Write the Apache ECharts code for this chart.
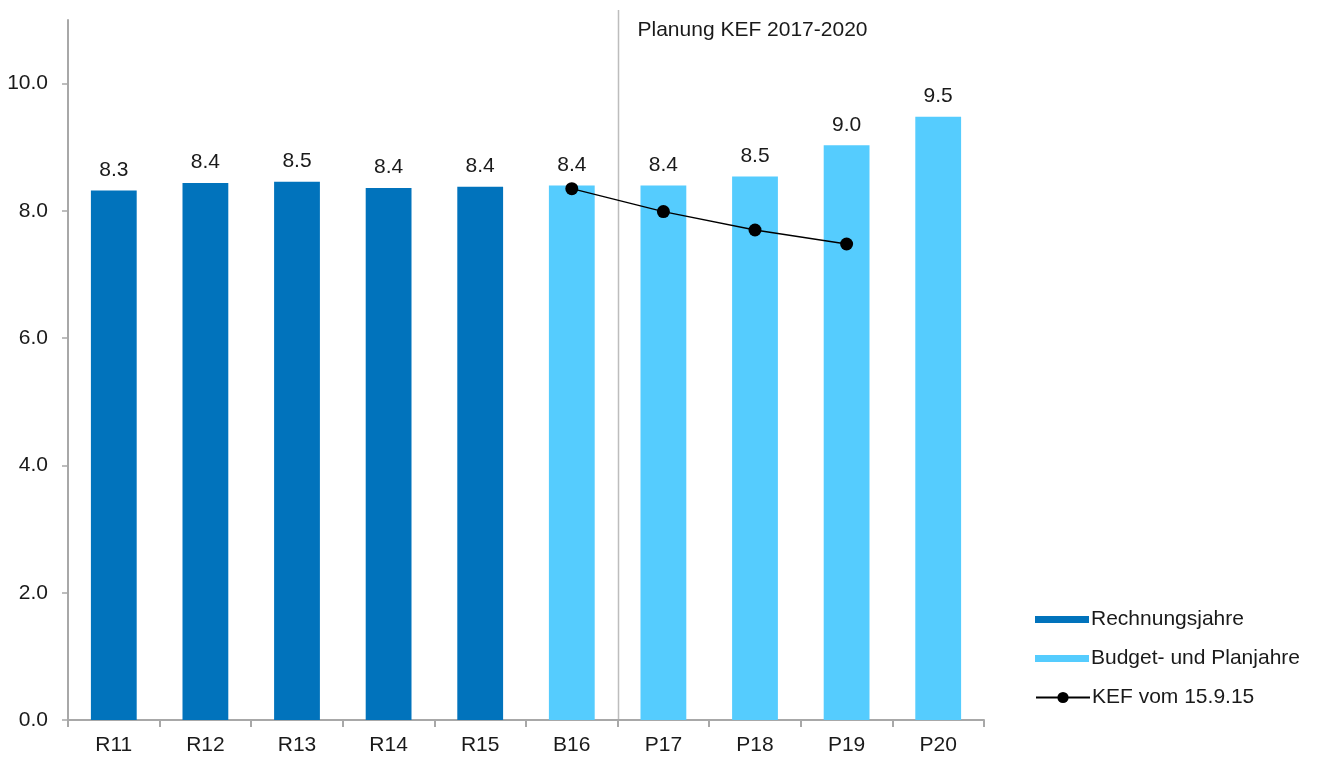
<!DOCTYPE html>
<html>
<head>
<meta charset="utf-8">
<script src="https://cdn.jsdelivr.net/npm/echarts@6/dist/echarts.min.js"></script>
<style>
  html, body { margin: 0; padding: 0; background: #fff; }
  #chart { width: 1319px; height: 758px; }
</style>
</head>
<body>
<div id="chart"></div>
<script>
const categories = ['R11', 'R12', 'R13', 'R14', 'R15', 'B16', 'P17', 'P18', 'P19', 'P20'];
const rechnung = [8.32, 8.44, 8.46, 8.36, 8.38, '-', '-', '-', '-', '-'];
const planung = ['-', '-', '-', '-', '-', 8.40, 8.40, 8.54, 9.03, 9.48];
const kef = ['-', '-', '-', '-', '-', 8.35, 7.99, 7.70, 7.48, '-'];
const yTicks = [0, 2, 4, 6, 8, 10];

const font = 'Liberation Sans, Arial, sans-serif';
const fs = 21;
const dark = '#0173BC';
const light = '#55CCFE';
const axisGrey = '#A8A8A8';

const chart = echarts.init(document.getElementById('chart'));

const barLabel = {
  show: true,
  position: 'top',
  distance: 10,
  fontFamily: font,
  fontSize: fs,
  color: '#1a1a1a',
  formatter: p => p.value.toFixed(1)
};

const option = {
  animation: false,
  grid: { left: 68, right: 335, top: 20, bottom: 38 },
  legend: [
    {
      left: 1030, top: 604, orient: 'vertical',
      itemWidth: 54, itemHeight: 7, itemGap: 18,
      icon: 'rect',
      textStyle: { fontFamily: font, fontSize: fs, color: '#1a1a1a', padding: [0, 0, 0, -3] },
      data: ['Rechnungsjahre', 'Budget- und Planjahre']
    },
    {
      left: 1030, top: 682, orient: 'vertical',
      itemWidth: 54, itemHeight: 14,
      textStyle: { fontFamily: font, fontSize: fs, color: '#1a1a1a', padding: [0, 0, 0, -3] },
      data: ['KEF vom 15.9.15']
    }
  ],
  xAxis: {
    type: 'category',
    data: categories,
    axisLine: { lineStyle: { color: axisGrey, width: 2 } },
    axisTick: { show: true, length: 7, lineStyle: { color: axisGrey, width: 2 } },
    axisLabel: { fontFamily: font, fontSize: fs, color: '#1a1a1a', margin: 15 }
  },
  yAxis: {
    type: 'value',
    min: yTicks[0],
    max: 11,
    interval: 2,
    splitLine: { show: false },
    axisLine: { show: true, lineStyle: { color: axisGrey, width: 2 } },
    axisTick: { show: true, length: 6, lineStyle: { color: axisGrey, width: 1.5 } },
    axisLabel: {
      fontFamily: font, fontSize: fs, color: '#1a1a1a', margin: 20,
      showMaxLabel: false,
      formatter: v => v.toFixed(1)
    }
  },
  series: [
    {
      name: 'Rechnungsjahre', type: 'bar', stack: 'b', barWidth: '50%',
      itemStyle: { color: dark }, label: barLabel, data: rechnung
    },
    {
      name: 'Budget- und Planjahre', type: 'bar', stack: 'b', barWidth: '50%',
      itemStyle: { color: light }, label: barLabel, data: planung
    },
    {
      name: 'KEF vom 15.9.15', type: 'line',
      symbol: 'circle', symbolSize: 13,
      itemStyle: { color: '#000' },
      lineStyle: { color: '#000', width: 1.3 },
      data: kef, z: 5
    }
  ]
};

chart.setOption(option);

// separator between B16 and P17
const xa = chart.convertToPixel({ xAxisIndex: 0 }, 'B16');
const xb = chart.convertToPixel({ xAxisIndex: 0 }, 'P17');
const sepX = Math.round((xa + xb) / 2) + 0.5;
const y0 = chart.convertToPixel({ yAxisIndex: 0 }, 0);
chart.setOption({
  graphic: [
    {
      type: 'line', silent: true,
      shape: { x1: sepX, y1: 10, x2: sepX, y2: y0 },
      style: { stroke: '#BDBDBD', lineWidth: 1.5 }
    },
    {
      type: 'text', silent: true, left: sepX + 19, top: 20,
      style: { text: 'Planung KEF 2017-2020', fontFamily: font, fontSize: fs, fill: '#1a1a1a' }
    }
  ]
});
</script>
</body>
</html>
